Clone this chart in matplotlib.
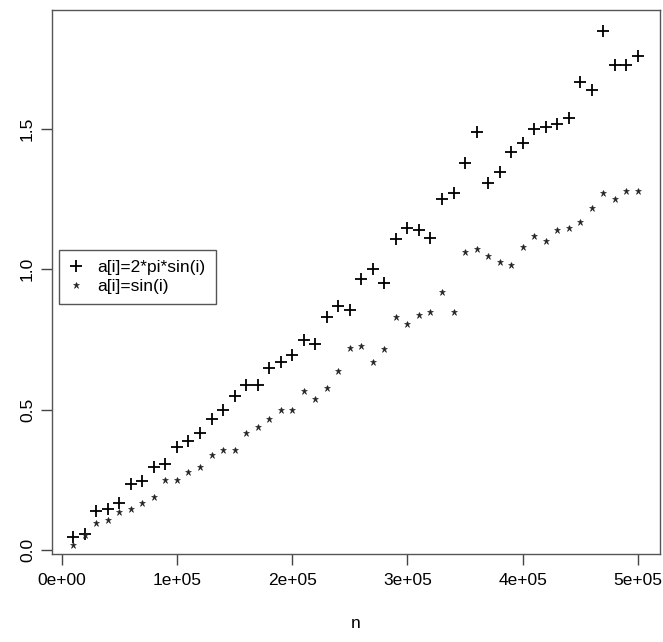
import matplotlib
matplotlib.use("Agg")
import matplotlib.pyplot as plt
from matplotlib.ticker import FuncFormatter

# --- Data -------------------------------------------------------------
n = [i * 10000 for i in range(1, 51)]

# a[i] = 2*pi*sin(i)
mean_2pi_sin = [0.047, 0.058, 0.138, 0.147, 0.169, 0.237, 0.247, 0.297, 0.306, 0.366,
                0.388, 0.416, 0.467, 0.498, 0.549, 0.587, 0.587, 0.649, 0.668, 0.696,
                0.747, 0.735, 0.828, 0.869, 0.856, 0.964, 0.999, 0.949, 1.106, 1.147,
                1.138, 1.109, 1.248, 1.269, 1.378, 1.488, 1.308, 1.346, 1.417, 1.447,
                1.497, 1.506, 1.518, 1.536, 1.666, 1.639, 1.847, 1.728, 1.728, 1.757]

# a[i] = sin(i)
mean_sin = [0.018, 0.055, 0.096, 0.107, 0.137, 0.147, 0.169, 0.189, 0.248, 0.248,
            0.279, 0.297, 0.338, 0.358, 0.358, 0.418, 0.439, 0.466, 0.498, 0.498,
            0.567, 0.536, 0.577, 0.637, 0.719, 0.727, 0.668, 0.717, 0.828, 0.806,
            0.838, 0.848, 0.918, 0.847, 1.060, 1.073, 1.045, 1.025, 1.015, 1.079,
            1.117, 1.099, 1.138, 1.148, 1.168, 1.218, 1.269, 1.249, 1.278, 1.278]

labels = ["a[i]=2*pi*sin(i)", "a[i]=sin(i)"]

x_ticks = [0, 100000, 200000, 300000, 400000, 500000]
y_ticks = [0.0, 0.5, 1.0, 1.5]

# --- Plot (R base-graphics look) --------------------------------------
plt.rcParams["font.family"] = ["Liberation Sans", "DejaVu Sans"]

fig = plt.figure(figsize=(6.63, 6.42), dpi=100)
ax = fig.add_axes([0.078, 0.137, 0.918, 0.847])

ax.plot(n, mean_2pi_sin, linestyle="none", marker="+", markersize=8,
        markeredgewidth=1.3, color="black", label=labels[0])
ax.plot(n, mean_sin, linestyle="none", marker="*", markersize=5,
        markeredgewidth=0.4, color="#222222", label=labels[1])

ax.set_xlim(-8700, 519500)
ax.set_ylim(-0.014, 1.921)

ax.set_xticks(x_ticks)
ax.xaxis.set_major_formatter(FuncFormatter(lambda v, p: "%.0e" % v))
ax.set_yticks(y_ticks)
ax.set_yticklabels(["%.1f" % v for v in y_ticks], rotation=90, va="center")

ax.tick_params(direction="out", length=8, width=1, color="#444444",
               labelsize=12.5, pad=6)
ax.tick_params(axis="y", pad=4)
for s in ax.spines.values():
    s.set_color("#555555")
    s.set_linewidth(1)

ax.set_xlabel("n", fontsize=12.5, labelpad=20)

leg = ax.legend(loc="upper left", bbox_to_anchor=(0.012, 0.56), fontsize=12.5,
                fancybox=False, framealpha=1, edgecolor="#555555",
                handlelength=0.8, handletextpad=0.8, borderpad=0.6,
                labelspacing=0.2, borderaxespad=0)
leg.get_frame().set_linewidth(1)

fig.savefig("out.png", dpi=100)
